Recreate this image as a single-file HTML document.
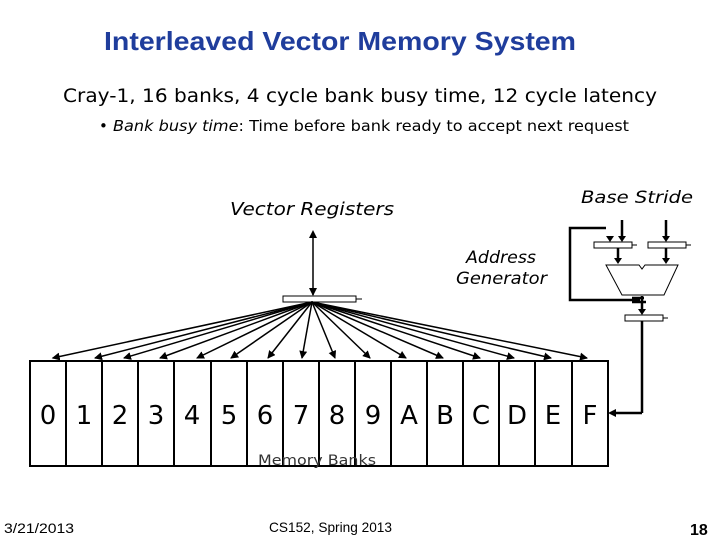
<!DOCTYPE html>
<html><head><style>
html,body{margin:0;padding:0;background:#fff;}
svg{display:block;}
</style></head><body>
<svg width="720" height="540" xmlns="http://www.w3.org/2000/svg" font-family="DejaVu Sans, Liberation Sans, sans-serif">
<defs>
<marker id="a" markerWidth="8" markerHeight="8" refX="7" refY="4" orient="auto" markerUnits="userSpaceOnUse">
<path d="M0,0 L8,4 L0,8 z" fill="#000"/></marker>
</defs>
<text x="104" y="50" font-family="Liberation Sans, sans-serif" font-weight="bold" font-size="26" fill="#1f3d9c" textLength="472" lengthAdjust="spacingAndGlyphs">Interleaved Vector Memory System</text>
<text x="360" y="102" text-anchor="middle" font-size="19" textLength="594" lengthAdjust="spacingAndGlyphs">Cray-1, 16 banks, 4 cycle bank busy time, 12 cycle latency</text>
<text x="99" y="131" font-size="15">•</text>
<text x="113" y="131" font-size="15" textLength="516" lengthAdjust="spacingAndGlyphs"><tspan font-style="italic">Bank busy time</tspan>: Time before bank ready to accept next request</text>
<text x="230" y="215" font-size="18" font-style="italic" textLength="164" lengthAdjust="spacingAndGlyphs">Vector Registers</text>
<text x="581" y="203" font-size="17" font-style="italic" textLength="112" lengthAdjust="spacingAndGlyphs">Base  Stride</text>
<text x="466" y="263" font-size="17" font-style="italic" textLength="70" lengthAdjust="spacingAndGlyphs">Address</text>
<text x="456" y="284" font-size="17" font-style="italic" textLength="91" lengthAdjust="spacingAndGlyphs">Generator</text>
<line x1="313" y1="236" x2="313" y2="295" stroke="#000" stroke-width="1.5" marker-end="url(#a)"/>
<polygon points="309,238 313,230 317,238" fill="#000"/>
<rect x="283" y="296" width="73" height="6" fill="#fff" stroke="#000"/>
<line x1="356" y1="299" x2="362" y2="299" stroke="#000"/>
<g stroke="#000" stroke-width="1.5" marker-end="url(#a)">
<line x1="312" y1="302" x2="52.7" y2="358"/>
<line x1="312" y1="302" x2="95" y2="358"/>
<line x1="312" y1="302" x2="124" y2="358"/>
<line x1="312" y1="302" x2="160" y2="358"/>
<line x1="312" y1="302" x2="197" y2="358"/>
<line x1="312" y1="302" x2="231" y2="358"/>
<line x1="312" y1="302" x2="268" y2="358"/>
<line x1="312" y1="302" x2="302" y2="358"/>
<line x1="312" y1="302" x2="335" y2="358"/>
<line x1="312" y1="302" x2="370" y2="358"/>
<line x1="312" y1="302" x2="406" y2="358"/>
<line x1="312" y1="302" x2="443" y2="358"/>
<line x1="312" y1="302" x2="480" y2="358"/>
<line x1="312" y1="302" x2="514" y2="358"/>
<line x1="312" y1="302" x2="551" y2="358"/>
<line x1="312" y1="302" x2="587" y2="358"/>
</g>
<g stroke="#000" stroke-width="2" fill="none">
<rect x="30" y="361" width="578" height="105"/>
<line x1="66" y1="361" x2="66" y2="466"/><line x1="102" y1="361" x2="102" y2="466"/>
<line x1="138" y1="361" x2="138" y2="466"/><line x1="174" y1="361" x2="174" y2="466"/>
<line x1="211" y1="361" x2="211" y2="466"/><line x1="247" y1="361" x2="247" y2="466"/>
<line x1="283" y1="361" x2="283" y2="466"/><line x1="319" y1="361" x2="319" y2="466"/>
<line x1="355" y1="361" x2="355" y2="466"/><line x1="391" y1="361" x2="391" y2="466"/>
<line x1="427" y1="361" x2="427" y2="466"/><line x1="463" y1="361" x2="463" y2="466"/>
<line x1="499" y1="361" x2="499" y2="466"/><line x1="535" y1="361" x2="535" y2="466"/>
<line x1="572" y1="361" x2="572" y2="466"/>
</g>
<g font-size="26" text-anchor="middle">
<text x="48" y="424">0</text><text x="84" y="424">1</text><text x="120" y="424">2</text><text x="156" y="424">3</text>
<text x="192" y="424">4</text><text x="229" y="424">5</text><text x="265" y="424">6</text><text x="301" y="424">7</text>
<text x="337" y="424">8</text><text x="373" y="424">9</text><text x="409" y="424">A</text><text x="445" y="424">B</text>
<text x="481" y="424">C</text><text x="517" y="424">D</text><text x="553" y="424">E</text><text x="590" y="424">F</text>
</g>
<text x="317" y="465" text-anchor="middle" font-size="14" fill="#333" textLength="118" lengthAdjust="spacingAndGlyphs">Memory Banks</text>
<g stroke="#000" stroke-width="2.5" fill="none">
<polyline points="606,228 570,228 570,300 640,300"/>
<line x1="622" y1="220" x2="622" y2="236"/>
<line x1="666" y1="220" x2="666" y2="236"/>
<line x1="618" y1="248" x2="618" y2="260"/>
<line x1="666" y1="248" x2="666" y2="260"/>
<line x1="642" y1="296" x2="642" y2="311"/>
<line x1="632" y1="298" x2="644" y2="298"/>
<line x1="632" y1="302" x2="646" y2="302"/>
<line x1="642" y1="321" x2="642" y2="413"/>
<line x1="642" y1="413" x2="616" y2="413"/>
</g>
<polygon points="606,236 610,242 614,236" fill="#000"/>
<polygon points="618,236 622,242 626,236" fill="#000"/>
<polygon points="662,236 666,242 670,236" fill="#000"/>
<polygon points="614,258 618,264 622,258" fill="#000"/>
<polygon points="662,258 666,264 670,258" fill="#000"/>
<polygon points="638,309 642,315 646,309" fill="#000"/>
<polygon points="616,409 608,413 616,417" fill="#000"/>
<rect x="594" y="242" width="38" height="6" fill="#fff" stroke="#000"/>
<rect x="648" y="242" width="38" height="6" fill="#fff" stroke="#000"/>
<line x1="632" y1="245" x2="637" y2="245" stroke="#000"/><line x1="686" y1="245" x2="691" y2="245" stroke="#000"/>
<polygon points="606,265 639,265 642,269 645,265 678,265 664,295 622,295" fill="#fff" stroke="#000"/>
<rect x="625" y="315" width="38" height="6" fill="#fff" stroke="#000"/>
<line x1="663" y1="318" x2="668" y2="318" stroke="#000"/>
<text x="4" y="533" font-family="Liberation Sans, sans-serif" font-size="14" textLength="70" lengthAdjust="spacingAndGlyphs">3/21/2013</text>
<text x="269" y="532" font-family="Liberation Sans, sans-serif" font-size="14" textLength="123" lengthAdjust="spacingAndGlyphs">CS152, Spring 2013</text>
<text x="690" y="535" font-family="Liberation Sans, sans-serif" font-weight="bold" font-size="16">18</text>
</svg>
</body></html>
